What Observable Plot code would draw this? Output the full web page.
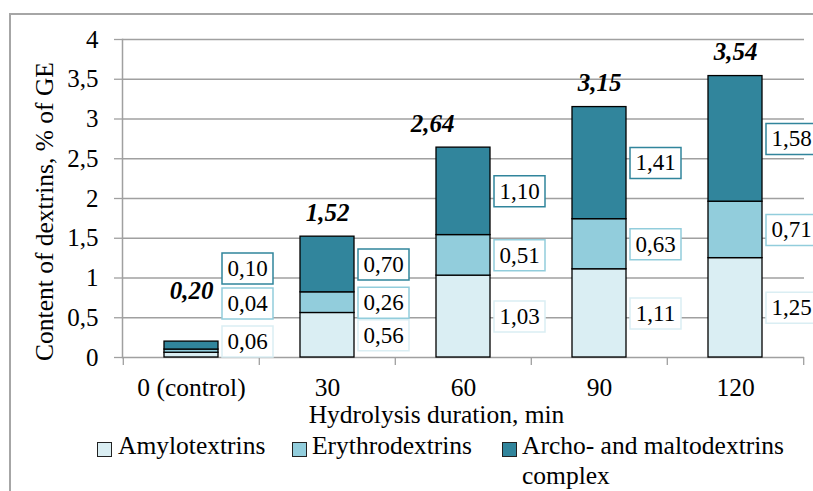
<!DOCTYPE html>
<html><head><meta charset="utf-8">
<script src="https://cdn.jsdelivr.net/npm/d3@7"></script>
<script src="https://cdn.jsdelivr.net/npm/@observablehq/plot@0.6"></script>
<style>
body{margin:0;background:#fff;overflow:hidden}
#wrap{position:relative;width:813px;height:491px;overflow:hidden;font-family:"Liberation Serif","Tinos","Times New Roman","Nimbus Roman","DejaVu Serif",serif;background:#fff}
#border{position:absolute;left:9px;top:13px;width:900px;height:600px;border:2px solid #a6a6a6}
#chart{position:absolute;left:0;top:0}
.leg{position:absolute;font-size:25.5px;line-height:30px;color:#000;white-space:normal}
.sw{position:absolute;width:13px;height:13px;border:1px solid #222}
</style></head><body>
<div id="wrap"><div id="border"></div><div id="chart"></div><div id="legend"></div></div>
<script>
// ---- data ----
const categories = ["0 (control)", "30", "60", "90", "120"];
const series = ["Amylotextrins", "Erythrodextrins", "Archo- and maltodextrins complex"];
const amylo   = [0.06, 0.56, 1.03, 1.11, 1.25];
const erythro = [0.04, 0.26, 0.51, 0.63, 0.71];
const archo   = [0.10, 0.70, 1.10, 1.41, 1.58];
const totals  = [0.20, 1.52, 2.64, 3.15, 3.54];
const yTicks  = [0, 0.5, 1, 1.5, 2, 2.5, 3, 3.5, 4];
const colors  = ["#DAEEF3", "#92CDDC", "#31859C"];

const values = [amylo, erythro, archo];
const rows = [];
categories.forEach((c, i) => {
  let base = 0;
  series.forEach((s, j) => {
    const v = values[j][i];
    rows.push({cat: c, series: s, value: v, mid: base + v / 2, i});
    base += v;
  });
});
// labels of the control bar were moved apart in the original
const controlLabelY = {"Amylotextrins": 0.20, "Erythrodextrins": 0.68, "Archo- and maltodextrins complex": 1.12};
rows.forEach(r => { r.labelY = r.i === 0 ? controlLabelY[r.series] : r.mid; });
const totalRows = categories.map((c, i) => ({cat: c, total: totals[i], i, labelY: i === 0 ? 0.54 : totals[i]}));
const fmt = v => v.toFixed(2).replace(".", ",");

const FONT = '"Liberation Serif", "Tinos", "Times New Roman", "Nimbus Roman", "DejaVu Serif", serif';
const W = 813, H = 430, mL = 122, mR = 9;
const step = (W - mL - mR) / categories.length;
const box = {draw(ctx) { ctx.rect(-25.5, -15.5, 51, 31); }};
const gray = "#a0a0a0";

const chart = Plot.plot({
  width: W, height: H, marginLeft: mL, marginRight: mR, marginTop: 39, marginBottom: 73,
  style: {fontFamily: FONT, fontSize: "25px", background: "transparent", overflow: "visible"},
  x: {domain: categories, paddingInner: 0.6, paddingOuter: 0.3, label: null},
  y: {domain: [0, 4], label: null},
  color: {domain: series, range: colors},
  marks: [
    Plot.gridY(yTicks, {stroke: gray, strokeOpacity: 1, strokeWidth: 1.3}),
    Plot.frame({anchor: "left", stroke: gray, strokeWidth: 1.5}),
    Plot.axisY(yTicks, {tickSize: 8, tickPadding: 16, stroke: gray, strokeWidth: 1.3, tickFormat: d => String(d).replace(".", ","), label: null, fontSize: 25}),
    Plot.ruleX(categories, {x: d => d, dx: -step / 2, y1: 0, y2: 0, insetBottom: -8, stroke: gray, strokeWidth: 1.3}),
    Plot.ruleX([categories[categories.length - 1]], {x: d => d, dx: step / 2, y1: 0, y2: 0, insetBottom: -8, stroke: gray, strokeWidth: 1.3}),
    Plot.axisX({tickSize: 0, tickPadding: 20, label: null, fontSize: 25.5}),
    Plot.barY(rows, {x: "cat", y: "value", fill: "series", stroke: "#000", strokeWidth: 1.3}),
    Plot.dot(rows, {x: "cat", y: "labelY", dx: 56, symbol: box, fill: "white", stroke: "series", strokeWidth: 1.5}),
    Plot.text(rows, {x: "cat", y: "labelY", dx: 56, text: d => fmt(d.value), fontSize: 23, fill: "#000"}),
    Plot.text(totalRows.filter(d => d.i !== 2), {x: "cat", y: "labelY", dy: -24, text: d => fmt(d.total), fontSize: 25, fontWeight: "bold", fontStyle: "italic", fill: "#000"}),
    Plot.text(totalRows.filter(d => d.i === 2), {x: "cat", y: "labelY", dy: -24, dx: -31, text: d => fmt(d.total), fontSize: 25, fontWeight: "bold", fontStyle: "italic", fill: "#000"}),
    Plot.text(["Content of dextrins, % of GE"], {frameAnchor: "left", textAnchor: "middle", dx: -78, dy: 13, rotate: -90, lineAnchor: "middle", fontSize: 25.5, fill: "#000"}),
    Plot.text(["Hydrolysis duration, min"], {frameAnchor: "bottom", textAnchor: "middle", dx: -27, dy: 57, lineAnchor: "middle", fontSize: 25.5, fill: "#000"})
  ]
});
document.getElementById("chart").appendChild(chart);

// legend
const legPos = [{sw: 97, tx: 118, w: 200}, {sw: 292, tx: 312, w: 200}, {sw: 502, tx: 522, w: 285}];
const leg = document.getElementById("legend");
series.forEach((s, j) => {
  const sw = document.createElement("div");
  sw.className = "sw";
  sw.style.left = legPos[j].sw + "px";
  sw.style.top = "442px";
  sw.style.background = colors[j];
  leg.appendChild(sw);
  const t = document.createElement("div");
  t.className = "leg";
  t.style.left = legPos[j].tx + "px";
  t.style.top = "431px";
  t.style.width = legPos[j].w + "px";
  t.textContent = s;
  leg.appendChild(t);
});
</script>
</body></html>
